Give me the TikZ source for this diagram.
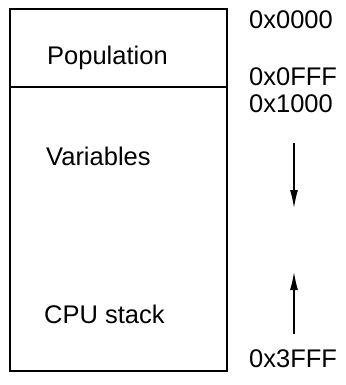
\documentclass[tikz,border=0pt]{standalone}
\usepackage{fontspec}
\setmainfont{Liberation Sans}
\usetikzlibrary{arrows.meta}
\begin{document}
\begin{tikzpicture}[x=1pt,y=1pt,
    lbl/.style={anchor=base west,inner sep=0pt,font=\fontsize{25.5}{30}\selectfont},
    growarrow/.style={line width=1.3pt,-{Latex[length=18pt,width=8pt]}}]
  \useasboundingbox (0,0) rectangle (345,-385);
  % Define the memory block
  \def\memblock{(10,-9) rectangle (227,-371)}

  % Outline the block and its divider
  \draw[line width=1.1pt] \memblock;
  \draw[line width=1.1pt] (10,-87) -- (227,-87);

  % Region names
  \node[lbl] (pop) at (47,-65) {Population};
  \node[lbl] (var) at (46,-165) {Variables};
  \node[lbl] (cpu) at (44,-323) {CPU stack};

  % Addresses
  \node[lbl] (a0) at (249,-29) {0x0000};
  \node[lbl] (a1) at (249,-86) {0x0FFF};
  \node[lbl] (a2) at (249,-113) {0x1000};
  \node[lbl] (a3) at (249,-367) {0x3FFF};

  % Growth directions
  \coordinate (dtop) at (294,-143);
  \coordinate (dbot) at (294,-208);
  \coordinate (utop) at (294,-272);
  \coordinate (ubot) at (294,-334);
  \draw[growarrow] (dtop) -- (dbot);
  \draw[growarrow] (ubot) -- (utop);
\end{tikzpicture}
\end{document}
